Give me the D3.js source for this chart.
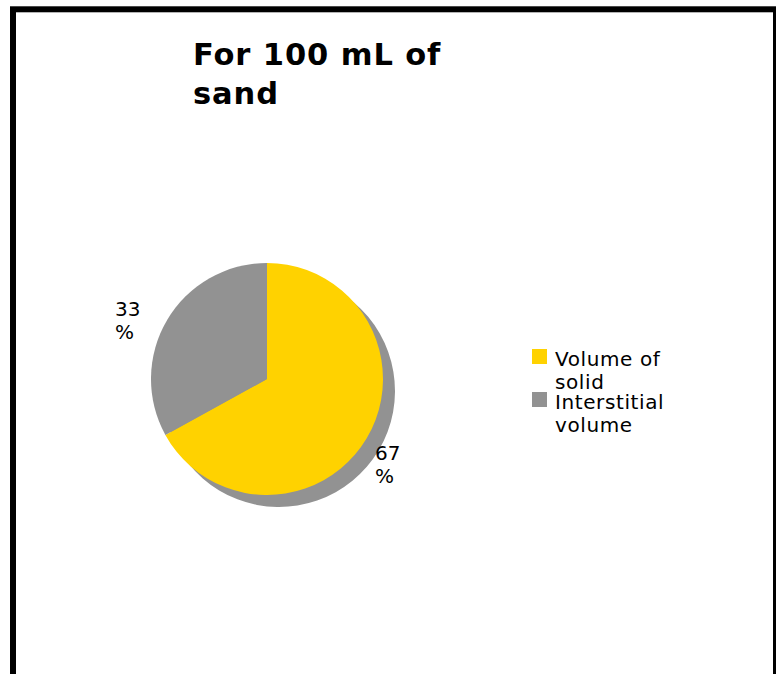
<!DOCTYPE html>
<html><head><meta charset="utf-8">
<script src="https://cdn.jsdelivr.net/npm/d3@7"></script>
<style>html,body{margin:0;padding:0;background:#fff;}svg{display:block;}</style>
</head><body>
<svg id="chart" width="776" height="674"></svg>
<script>
const categories = ["Volume of solid", "Interstitial volume"];
const values = [67, 33];
const labels = ["67\n%", "33\n%"];
const legendLines = [["Volume of", "solid"], ["Interstitial", "volume"]];
const colors = ["#FFD200", "#929292"];
const titleLines = ["For 100 mL of", "sand"];

const svg = d3.select("#chart");
const font = "'DejaVu Sans', Verdana, sans-serif";

svg.append("rect").attr("x", 13).attr("y", 9.3).attr("width", 763).attr("height", 700)
  .attr("fill", "#fff").attr("stroke", "#000").attr("stroke-width", 6);

svg.append("text").attr("x", 193).attr("font-family", font).attr("font-weight", "bold")
  .attr("font-size", 30.5).attr("letter-spacing", 0.9).attr("fill", "#000")
  .selectAll("tspan").data(titleLines).join("tspan")
  .attr("x", 193).attr("y", (d, i) => 65 + i * 39).text(d => d);

const cx = 267, cy = 379, r = 116, off = 12;
const pie = d3.pie().sort(null).value(d => d)(values);
const arc = d3.arc().innerRadius(0).outerRadius(r);

svg.append("g").attr("transform", `translate(${cx + off},${cy + off})`)
  .selectAll("path").data(pie).join("path").attr("d", arc).attr("fill", "#929292");

svg.append("g").attr("transform", `translate(${cx},${cy})`)
  .selectAll("path").data(pie).join("path").attr("d", arc).attr("fill", (d, i) => colors[i]);

const labelPos = [[375, 460], [115, 316]];
labels.forEach((l, i) => {
  const t = svg.append("text").attr("font-family", font).attr("font-size", 20).attr("fill", "#000");
  l.split("\n").forEach((line, j) => {
    t.append("tspan").attr("x", labelPos[i][0]).attr("y", labelPos[i][1] + j * 23).text(line);
  });
});

const lg = svg.append("g");
categories.forEach((c, i) => {
  const y0 = 349 + i * 43;
  lg.append("rect").attr("x", 532).attr("y", y0).attr("width", 15).attr("height", 15).attr("fill", colors[i]);
  const t = lg.append("text").attr("font-family", font).attr("font-size", 20)
    .attr("letter-spacing", 0.6).attr("fill", "#000");
  legendLines[i].forEach((line, j) => {
    t.append("tspan").attr("x", 555).attr("y", y0 + 17 + j * 23).text(line);
  });
});
</script>
</body></html>
